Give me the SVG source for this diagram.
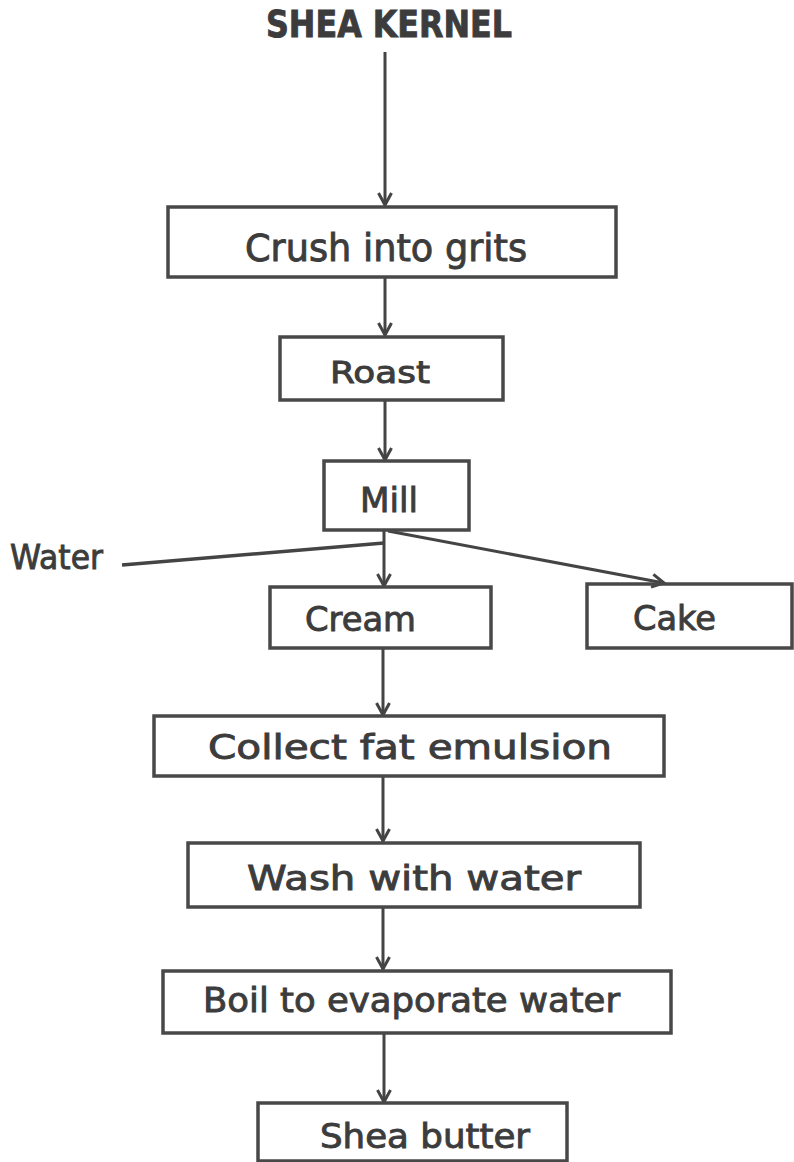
<svg xmlns="http://www.w3.org/2000/svg" width="794" height="1162" viewBox="0 0 794 1162">
<defs>
<style>
.box{fill:none;stroke:#484848;stroke-width:3.5}
.lbl{font-family:"DejaVu Sans","Liberation Sans",sans-serif;fill:#3c3c3c;stroke:#3c3c3c;stroke-width:0.9;text-anchor:start}
.con{fill:none;stroke:#444;stroke-width:3}
</style>
<marker id="ah" viewBox="-14 -9 16 18" refX="0" refY="0" markerWidth="16" markerHeight="18" markerUnits="userSpaceOnUse" orient="auto">
<path d="M-12,-6.5 L0,0 L-12,6.5" fill="none" stroke="#444" stroke-width="3"/>
</marker>
</defs>
<rect width="794" height="1162" fill="#ffffff"/>

<g id="connectors">
<line class="con" x1="385" y1="52" x2="385" y2="205" marker-end="url(#ah)"/>
<line class="con" x1="385" y1="278" x2="385" y2="335" marker-end="url(#ah)"/>
<line class="con" x1="385" y1="401" x2="385" y2="460" marker-end="url(#ah)"/>
<line class="con" x1="384" y1="531" x2="384" y2="586" marker-end="url(#ah)"/>
<line class="con" x1="122" y1="565" x2="384" y2="543" style="stroke-width:3.5"/>
<line class="con" x1="388" y1="531" x2="664" y2="583" marker-end="url(#ah)"/>
<line class="con" x1="383" y1="648" x2="383" y2="715" marker-end="url(#ah)"/>
<line class="con" x1="383" y1="776" x2="383" y2="841" marker-end="url(#ah)"/>
<line class="con" x1="383" y1="907" x2="383" y2="969" marker-end="url(#ah)"/>
<line class="con" x1="384" y1="1034" x2="384" y2="1102" marker-end="url(#ah)"/>
</g>

<g id="shea-kernel">
<text class="lbl" x="266" y="37" font-size="37" font-weight="bold" textLength="246" lengthAdjust="spacingAndGlyphs">SHEA KERNEL</text>
</g>
<g id="crush">
<rect class="box" x="168" y="207" width="448" height="70"/>
<text class="lbl" x="245" y="261" font-size="37" textLength="282" lengthAdjust="spacingAndGlyphs">Crush into grits</text>
</g>
<g id="roast">
<rect class="box" x="280" y="337" width="223" height="63"/>
<text class="lbl" x="330" y="383" font-size="31" textLength="100" lengthAdjust="spacingAndGlyphs">Roast</text>
</g>
<g id="mill">
<rect class="box" x="324" y="461" width="145" height="69"/>
<text class="lbl" x="360" y="512" font-size="34" textLength="58" lengthAdjust="spacingAndGlyphs">Mill</text>
</g>
<g id="water">
<text class="lbl" x="10" y="569" font-size="33" textLength="93" lengthAdjust="spacingAndGlyphs">Water</text>
</g>
<g id="cream">
<rect class="box" x="270" y="587" width="221" height="61"/>
<text class="lbl" x="305" y="631" font-size="33" textLength="111" lengthAdjust="spacingAndGlyphs">Cream</text>
</g>
<g id="cake">
<rect class="box" x="587" y="584" width="205" height="64"/>
<text class="lbl" x="633" y="630" font-size="33" textLength="83" lengthAdjust="spacingAndGlyphs">Cake</text>
</g>
<g id="collect">
<rect class="box" x="154" y="716" width="510" height="60"/>
<text class="lbl" x="208" y="759" font-size="33" textLength="404" lengthAdjust="spacingAndGlyphs">Collect fat emulsion</text>
</g>
<g id="wash">
<rect class="box" x="188" y="843" width="452" height="64"/>
<text class="lbl" x="247" y="890" font-size="33" textLength="334" lengthAdjust="spacingAndGlyphs">Wash with water</text>
</g>
<g id="boil">
<rect class="box" x="163" y="971" width="508" height="62"/>
<text class="lbl" x="203" y="1012" font-size="33" textLength="417" lengthAdjust="spacingAndGlyphs">Boil to evaporate water</text>
</g>
<g id="shea-butter">
<rect class="box" x="258" y="1103" width="309" height="58"/>
<text class="lbl" x="320" y="1148" font-size="33" textLength="210" lengthAdjust="spacingAndGlyphs">Shea butter</text>
</g>
</svg>
